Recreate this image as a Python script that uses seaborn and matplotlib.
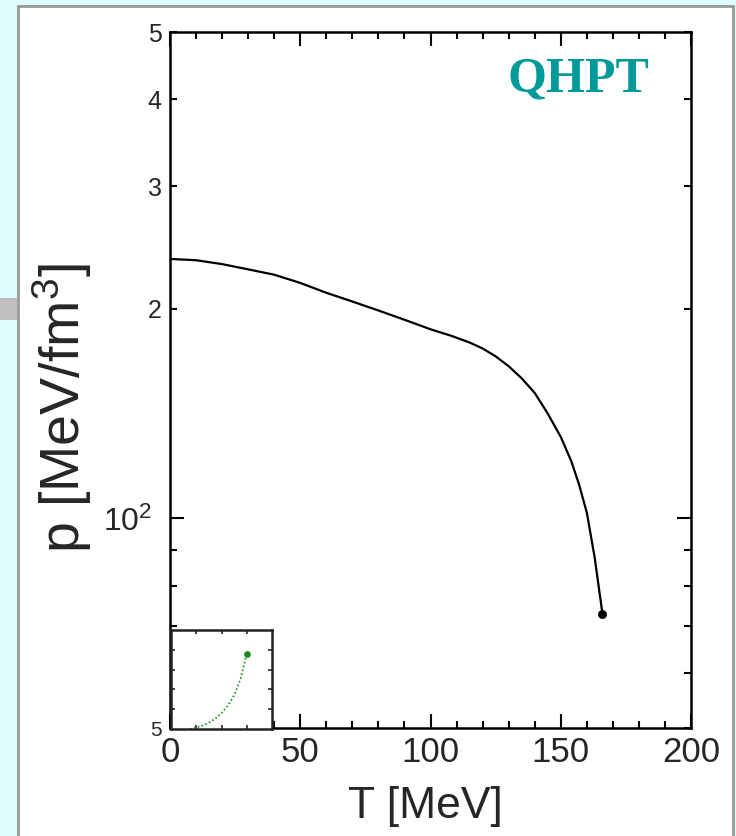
import matplotlib
matplotlib.use("Agg")
import matplotlib.pyplot as plt
from matplotlib.patches import Rectangle
from matplotlib.ticker import FixedLocator, FixedFormatter, NullFormatter, MultipleLocator
from matplotlib.transforms import ScaledTranslation
import seaborn as sns

# Pressure along the transition line
T_mev = [0, 10, 20, 30, 40, 50, 60, 70, 80, 90, 100, 108, 115, 120, 125,
         130, 135, 140, 145, 150, 154, 157, 160, 163, 166]
p_val = [236, 235, 232, 228, 224, 218, 211, 205, 199, 193, 187, 183, 179,
         175.5, 171, 165.5, 159, 151.5, 141.5, 131, 121, 112, 102, 88, 73]

# Small inset curve (arbitrary units)
inset_x = [0.75, 1.0, 1.25, 1.5, 1.75, 2.0, 2.25, 2.5, 2.75, 3.0]
inset_y = [0.0, 0.07, 0.17, 0.32, 0.52, 0.8, 1.18, 1.7, 2.5, 3.8]

y_ticks = [50, 100, 200, 300, 400, 500]
y_tick_labels = ["5", "$10^2$", "2", "3", "4", "5"]
y_minor = [60, 70, 80, 90]
x_ticks = [0, 50, 100, 150, 200]
x_tick_labels = ["0", "50", "100", "150", "200"]

sns.set_style("ticks")
plt.rcParams["font.family"] = ["Liberation Sans", "DejaVu Sans"]
plt.rcParams["mathtext.fontset"] = "custom"
plt.rcParams["mathtext.rm"] = "Liberation Sans"
plt.rcParams["mathtext.it"] = "Liberation Sans:italic"

W, H = 736, 836
fig = plt.figure(figsize=(W / 100, H / 100), dpi=100)
fig.patch.set_facecolor("#e0fbfb")

# white slide panel and small side marker
fig.add_artist(Rectangle((18 / W, -0.02), (733 - 18) / W, 1 - 6 / H + 0.02,
                         transform=fig.transFigure, facecolor="white",
                         edgecolor="#999999", lw=2, zorder=-2))
fig.add_artist(Rectangle((0, 1 - 320 / H), 17 / W, 22 / H,
                         transform=fig.transFigure, facecolor="#c0c0c0",
                         edgecolor="none", zorder=-1))

ax = fig.add_axes([170 / W, 1 - 728 / H, 521 / W, 696 / H])
ax.set_facecolor("white")

sns.lineplot(x=T_mev, y=p_val, ax=ax, color="black", lw=1.6, sort=False)
sns.scatterplot(x=[T_mev[-1]], y=[p_val[-1]], ax=ax, color="black", s=35,
                edgecolor="black", zorder=4)

ax.set_yscale("log")
ax.set_xlim(0, 200)
ax.set_ylim(50, 500)

ax.xaxis.set_major_locator(FixedLocator(x_ticks))
ax.xaxis.set_major_formatter(FixedFormatter(x_tick_labels))
ax.xaxis.set_minor_locator(MultipleLocator(10))
ax.yaxis.set_major_locator(FixedLocator(y_ticks))
ax.yaxis.set_major_formatter(FixedFormatter(y_tick_labels))
ax.yaxis.set_minor_locator(FixedLocator(y_minor))
ax.yaxis.set_minor_formatter(NullFormatter())

for s in ax.spines.values():
    s.set_visible(True)
    s.set_linewidth(1.8)
    s.set_color("black")

ax.tick_params(which="both", direction="in", top=True, right=True,
               width=1.5, color="black")
ax.tick_params(axis="x", which="major", length=10, labelsize=25, pad=6)
ax.tick_params(axis="x", which="minor", length=5)
ax.tick_params(axis="y", which="major", length=5, labelsize=18, pad=6)
ax.tick_params(axis="y", which="minor", length=5)

yt = ax.yaxis.get_major_ticks()
yt[0].label1.set_fontsize(15)
yt[1].label1.set_fontsize(23)
yt[1].label1.set_transform(yt[1].label1.get_transform()
                           + ScaledTranslation(-7 / 72, 0, fig.dpi_scale_trans))
yt[1].tick1line.set_markersize(10)
yt[1].tick2line.set_markersize(10)

ax.set_xlabel("T [MeV]", fontsize=32)
ax.set_ylabel("p [MeV/fm$^3$]", fontsize=40)
ax.xaxis.set_label_coords(0.49, -0.084)
ax.yaxis.set_label_coords(-0.146, 0.46)

ax.text(0.783, 0.932, "QHPT", transform=ax.transAxes, ha="center",
        va="center", fontsize=36, fontweight="bold", color="#009a9a",
        family=["Liberation Serif", "DejaVu Serif"])

# inset
axin = fig.add_axes([171 / W, 1 - 729 / H, 101 / W, 99 / H], zorder=5)
axin.set_facecolor("white")
sns.lineplot(x=inset_x, y=inset_y, ax=axin, color="#2e9a2e", lw=1.3,
             linestyle=(0, (1, 1.2)), sort=False)
sns.scatterplot(x=[inset_x[-1]], y=[inset_y[-1]], ax=axin, color="#1f8a1f",
                s=20, edgecolor="#1f8a1f", zorder=4)
axin.set_xlim(0, 4)
axin.set_ylim(0, 5)
axin.set_xticks([1, 2, 3])
axin.set_yticks([1, 2, 3, 4])
axin.set_xticklabels([])
axin.set_yticklabels([])
axin.set_xlabel("")
axin.set_ylabel("")
axin.tick_params(direction="in", top=True, right=True, length=3, width=1.2)
for s in axin.spines.values():
    s.set_visible(True)
    s.set_linewidth(1.8)
    s.set_color("#222222")

fig.savefig("out.png", dpi=100, facecolor=fig.get_facecolor())
